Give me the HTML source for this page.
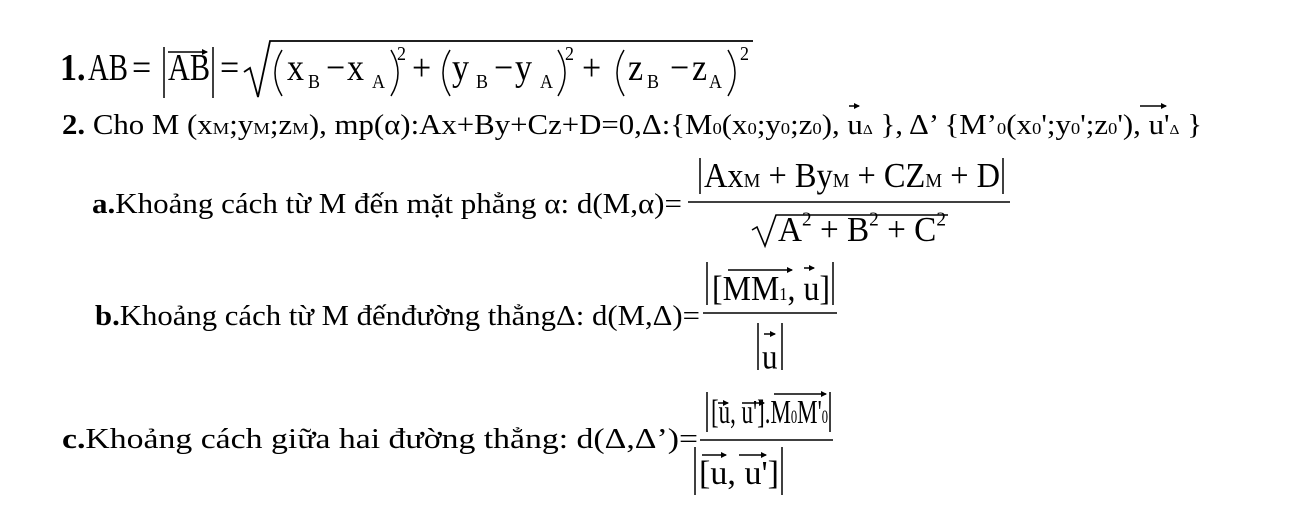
<!DOCTYPE html>
<html><head><meta charset="utf-8"><style>
html,body{margin:0;padding:0;background:#fff;}
svg{display:block;}
text{font-family:"Liberation Serif",serif;fill:#000;}
</style></head><body>
<svg width="1296" height="510" viewBox="0 0 1296 510" xmlns="http://www.w3.org/2000/svg">
<defs><marker id="ah" markerWidth="6" markerHeight="6" refX="5" refY="3" orient="auto" markerUnits="userSpaceOnUse"><path d="M0,0 L6,3 L0,6 z" fill="#000"/></marker></defs>
<g stroke="#000" fill="none" stroke-width="1.5">
<line x1="164" y1="47" x2="164" y2="98"/><line x1="213" y1="47" x2="213" y2="98"/>
<line x1="168" y1="52" x2="207" y2="52" marker-end="url(#ah)"/>
<polyline points="244,72 250,68 258,97 270,41 753,41" stroke-width="1.8"/>
<path d="M282,50 Q268,73 282,96"/><path d="M391,50 Q405,73 391,96"/>
<path d="M450,50 Q436,73 450,96"/><path d="M558,50 Q572,73 558,96"/>
<path d="M624,50 Q610,73 624,96"/><path d="M728,50 Q742,73 728,96"/>
<line x1="688" y1="202" x2="1010" y2="202"/>
<line x1="700" y1="158" x2="700" y2="194"/><line x1="1003" y1="158" x2="1003" y2="194"/>
<polyline points="752,230 757,227 765,246 776,215 948,215" stroke-width="1.6"/>
<line x1="703" y1="313" x2="837" y2="313"/>
<line x1="707" y1="262" x2="707" y2="305"/><line x1="833" y1="262" x2="833" y2="305"/>
<line x1="728" y1="270" x2="792" y2="270" marker-end="url(#ah)"/>
<line x1="804" y1="268" x2="814" y2="268" marker-end="url(#ah)"/>
<line x1="758" y1="323" x2="758" y2="370"/><line x1="782" y1="323" x2="782" y2="370"/>
<line x1="764" y1="334" x2="775" y2="334" marker-end="url(#ah)"/>
<line x1="700" y1="440" x2="833" y2="440"/>
<line x1="707" y1="392" x2="707" y2="432"/><line x1="830" y1="392" x2="830" y2="432"/>
<line x1="718" y1="403" x2="728" y2="403" marker-end="url(#ah)"/>
<line x1="742" y1="403" x2="764" y2="403" marker-end="url(#ah)"/>
<line x1="774" y1="394" x2="826" y2="394" marker-end="url(#ah)"/>
<line x1="695" y1="447" x2="695" y2="495"/><line x1="782" y1="447" x2="782" y2="495"/>
<line x1="702" y1="455" x2="726" y2="455" marker-end="url(#ah)"/>
<line x1="739" y1="455" x2="766" y2="455" marker-end="url(#ah)"/>
<line x1="849" y1="106" x2="859" y2="106" marker-end="url(#ah)"/>
<line x1="1140" y1="106" x2="1166" y2="106" marker-end="url(#ah)"/>
</g>
<g transform="translate(0,80) scale(1,1.12) translate(0,-80)" font-size="34">
<text x="60" y="80" font-weight="bold">1.</text>
<text x="88" y="80" textLength="40" lengthAdjust="spacingAndGlyphs">AB</text>
<text x="132" y="80">=</text>
<text x="168" y="80" textLength="42" lengthAdjust="spacingAndGlyphs">AB</text>
<text x="220" y="80">=</text>
<text x="287" y="80">x</text><text x="308" y="87" font-size="18">B</text>
<text x="326" y="80">−</text>
<text x="347" y="80">x</text><text x="372" y="87" font-size="18">A</text>
<text x="397" y="62" font-size="18">2</text>
<text x="412" y="80">+</text>
<text x="452" y="80">y</text><text x="476" y="87" font-size="18">B</text>
<text x="494" y="80">−</text>
<text x="515" y="80">y</text><text x="540" y="87" font-size="18">A</text>
<text x="565" y="62" font-size="18">2</text>
<text x="582" y="80">+</text>
<text x="628" y="80">z</text><text x="647" y="87" font-size="18">B</text>
<text x="670" y="80">−</text>
<text x="692" y="80">z</text><text x="709" y="87" font-size="18">A</text>
<text x="740" y="62" font-size="18">2</text>
</g>
<text x="62" y="134" font-size="28" textLength="1140" lengthAdjust="spacingAndGlyphs"><tspan font-weight="bold">2.</tspan> Cho M (x<tspan font-size="17">M</tspan>;y<tspan font-size="17">M</tspan>;z<tspan font-size="17">M</tspan>), mp(α):Ax+By+Cz+D=0,Δ:{M<tspan font-size="17">0</tspan>(x<tspan font-size="17">0</tspan>;y<tspan font-size="17">0</tspan>;z<tspan font-size="17">0</tspan>), u<tspan font-size="14">Δ</tspan> }, Δ’ {M’<tspan font-size="17">0</tspan>(x<tspan font-size="17">0</tspan>';y<tspan font-size="17">0</tspan>';z<tspan font-size="17">0</tspan>'),  u'<tspan font-size="14">Δ</tspan> }</text>
<text x="92" y="213" font-size="28" textLength="590" lengthAdjust="spacingAndGlyphs"><tspan font-weight="bold">a.</tspan>Khoảng cách từ M đến mặt phẳng α: d(M,α)=</text>
<g transform="translate(0,187) scale(1,1.12) translate(0,-187)">
<text x="704" y="187" font-size="31" textLength="296" lengthAdjust="spacingAndGlyphs">Ax<tspan font-size="18">M</tspan> + By<tspan font-size="18">M</tspan> + CZ<tspan font-size="18">M</tspan> + D</text>
</g>
<g transform="translate(0,241) scale(1,1.12) translate(0,-241)">
<text x="778" y="241" font-size="31" textLength="168" lengthAdjust="spacingAndGlyphs">A<tspan font-size="18" dy="-14">2</tspan><tspan dy="14"> + B</tspan><tspan font-size="18" dy="-14">2</tspan><tspan dy="14"> + C</tspan><tspan font-size="18" dy="-14">2</tspan></text>
</g>
<text x="95" y="325" font-size="28" textLength="605" lengthAdjust="spacingAndGlyphs"><tspan font-weight="bold">b.</tspan>Khoảng cách từ M đếnđường thẳngΔ: d(M,Δ)=</text>
<g transform="translate(0,300) scale(1,1.12) translate(0,-300)">
<text x="712" y="300" font-size="31" textLength="118" lengthAdjust="spacingAndGlyphs">[MM<tspan font-size="16">1</tspan>, u]</text>
<text x="762" y="361" font-size="31">u</text>
</g>
<text x="62" y="448" font-size="28" textLength="636" lengthAdjust="spacingAndGlyphs"><tspan font-weight="bold">c.</tspan>Khoảng cách giữa hai đường thẳng: d(Δ,Δ’)=</text>
<g transform="translate(0,423) scale(1,1.1) translate(0,-423)">
<text x="711" y="423" font-size="31" textLength="117" lengthAdjust="spacingAndGlyphs">[u, u'].M<tspan font-size="17">0</tspan>M'<tspan font-size="17">0</tspan></text>
</g>
<g transform="translate(0,484) scale(1,1.15) translate(0,-484)">
<text x="699" y="484" font-size="29" textLength="80" lengthAdjust="spacingAndGlyphs">[u, u']</text>
</g>
</svg>
</body></html>
